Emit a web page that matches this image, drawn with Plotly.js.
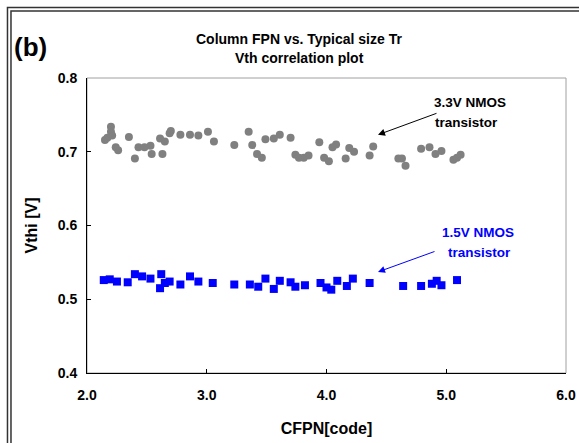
<!DOCTYPE html>
<html>
<head>
<meta charset="utf-8">
<script src="https://cdn.plot.ly/plotly-3.0.1.min.js"></script>
<style>html,body{margin:0;padding:0;background:#fff;}#chart{width:579px;height:443px;}</style>
</head>
<body>
<div id="chart"></div>
<script>
// 3.3V NMOS transistor (gray circles)
const nmos33_x = [2.15,2.17,2.21,2.20,2.20,2.24,2.26,2.35,2.40,2.43,2.48,2.53,2.54,2.61,2.65,2.63,2.69,2.70,2.78,2.86,2.93,
  3.01,3.06,3.23,3.35,3.38,3.42,3.46,3.49,3.56,3.61,3.70,3.74,3.77,3.81,3.85,3.94,3.98,4.02,4.05,4.08,4.16,4.19,4.23,4.36,4.39,
  4.60,4.63,4.66,4.79,4.86,4.91,4.96,5.06,5.09,5.12];
const nmos33_y = [0.716,0.719,0.722,0.727,0.734,0.706,0.702,0.720,0.691,0.706,0.706,0.708,0.697,0.718,0.714,0.697,0.725,0.728,0.723,0.723,0.722,
  0.727,0.714,0.709,0.727,0.709,0.697,0.692,0.717,0.718,0.723,0.719,0.696,0.692,0.692,0.695,0.713,0.692,0.687,0.706,0.710,0.691,0.705,0.700,0.695,0.707,
  0.691,0.691,0.681,0.704,0.706,0.697,0.701,0.689,0.692,0.696];
// 1.5V NMOS transistor (blue squares)
const nmos15_x = [2.14,2.19,2.25,2.34,2.40,2.46,2.53,2.62,2.61,2.65,2.69,2.78,2.86,2.93,
  3.05,3.23,3.36,3.43,3.49,3.56,3.61,3.70,3.74,3.82,3.95,4.00,4.04,4.09,4.17,4.22,4.36,
  4.64,4.79,4.88,4.92,4.96,5.09];
const nmos15_y = [0.526,0.527,0.524,0.523,0.534,0.531,0.528,0.534,0.515,0.522,0.524,0.520,0.531,0.524,
  0.522,0.520,0.520,0.517,0.528,0.514,0.525,0.523,0.517,0.519,0.522,0.516,0.513,0.525,0.518,0.528,0.522,
  0.518,0.518,0.521,0.525,0.519,0.526];
const xTickVals = [2, 3, 4, 5, 6];
const yTickVals = [0.4, 0.5, 0.6, 0.7, 0.8];

const F = 'Liberation Sans, Arial, sans-serif';
const traces = [
  {x: nmos33_x, y: nmos33_y, type: 'scatter', mode: 'markers', name: '3.3V NMOS',
   marker: {symbol: 'circle', size: 8, color: '#808080'}},
  {x: nmos15_x, y: nmos15_y, type: 'scatter', mode: 'markers', name: '1.5V NMOS',
   marker: {symbol: 'square', size: 8, color: '#0000FF'}}
];
const layout = {
  width: 579, height: 443,
  margin: {l: 87, r: 13, t: 78, b: 70},
  paper_bgcolor: '#fff', plot_bgcolor: '#fff',
  showlegend: false,
  font: {family: F, size: 13, color: '#000'},
  xaxis: {range: [2, 6], tickvals: xTickVals, tickformat: '.1f', showgrid: false, zeroline: false,
    showline: true, linecolor: '#000', linewidth: 1, ticks: 'inside', ticklen: 4, tickcolor: '#000',
    ticklabelstandoff: 9,
    tickfont: {family: F, size: 14, weight: 'bold'},
    title: {text: 'CFPN[code]', font: {family: F, size: 16, weight: 'bold'}, standoff: 21}},
  yaxis: {range: [0.4, 0.8], tickvals: yTickVals, tickformat: '.1f', showgrid: false, zeroline: false,
    showline: true, linecolor: '#000', linewidth: 1, ticks: 'inside', ticklen: 4, tickcolor: '#000',
    ticklabelstandoff: 6,
    tickfont: {family: F, size: 14, weight: 'bold'},
    title: {text: 'Vthi [V]', font: {family: F, size: 16, weight: 'bold'}, standoff: 16}},
  shapes: [
    {type: 'rect', xref: 'paper', yref: 'paper', x0: 0, x1: 1, y0: 0, y1: 1, line: {color: '#a0a0a0', width: 1}, layer: 'below'},
    {type: 'rect', xref: 'paper', yref: 'paper', x0: -0.166, x1: 1.2, y0: -0.4, y1: 1.239, line: {color: '#333', width: 1.5}},
    {type: 'rect', xref: 'paper', yref: 'paper', x0: -0.1587, x1: 1.2, y0: -0.4, y1: 1.227, line: {color: '#333', width: 1.5}}
  ],
  annotations: [
    {xref: 'paper', yref: 'paper', x: 0.443, y: 1.132, text: 'Column FPN vs. Typical size Tr', showarrow: false,
     font: {family: F, size: 14, weight: 'bold'}, xanchor: 'center', yanchor: 'middle'},
    {xref: 'paper', yref: 'paper', x: 0.443, y: 1.068, text: 'Vth correlation plot', showarrow: false,
     font: {family: F, size: 14, weight: 'bold'}, xanchor: 'center', yanchor: 'middle'},
    {xref: 'paper', yref: 'paper', x: -0.156, y: 1.105, text: '(b)', showarrow: false,
     font: {family: F, size: 26, weight: 'bold'}, xanchor: 'left', yanchor: 'middle'},
    {xref: 'x', yref: 'y', x: 4.43, y: 0.723, ax: 60, ay: -22, text: '', showarrow: true,
     arrowcolor: '#000', arrowwidth: 1, arrowhead: 2, arrowsize: 1.4},
    {xref: 'paper', yref: 'paper', x: (432-87)/479, y: (373-102)/295, text: '3.3V NMOS', showarrow: false,
     font: {family: F, size: 13.5, weight: 'bold', color: '#000'}, xanchor: 'left', yanchor: 'middle'},
    {xref: 'paper', yref: 'paper', x: (433-87)/479, y: (373-122)/295, text: 'transistor', showarrow: false,
     font: {family: F, size: 13.5, weight: 'bold', color: '#000'}, xanchor: 'left', yanchor: 'middle'},
    {xref: 'x', yref: 'y', x: 4.43, y: 0.537, ax: 58, ay: -21, text: '', showarrow: true,
     arrowcolor: '#0000FF', arrowwidth: 1, arrowhead: 2, arrowsize: 1.4},
    {xref: 'paper', yref: 'paper', x: (440-87)/479, y: (373-232)/295, text: '1.5V NMOS', showarrow: false,
     font: {family: F, size: 13.5, weight: 'bold', color: '#0000FF'}, xanchor: 'left', yanchor: 'middle'},
    {xref: 'paper', yref: 'paper', x: (446-87)/479, y: (373-252)/295, text: 'transistor', showarrow: false,
     font: {family: F, size: 13.5, weight: 'bold', color: '#0000FF'}, xanchor: 'left', yanchor: 'middle'}
  ]
};
Plotly.newPlot('chart', traces, layout, {displayModeBar: false, staticPlot: true});
</script>
</body>
</html>
